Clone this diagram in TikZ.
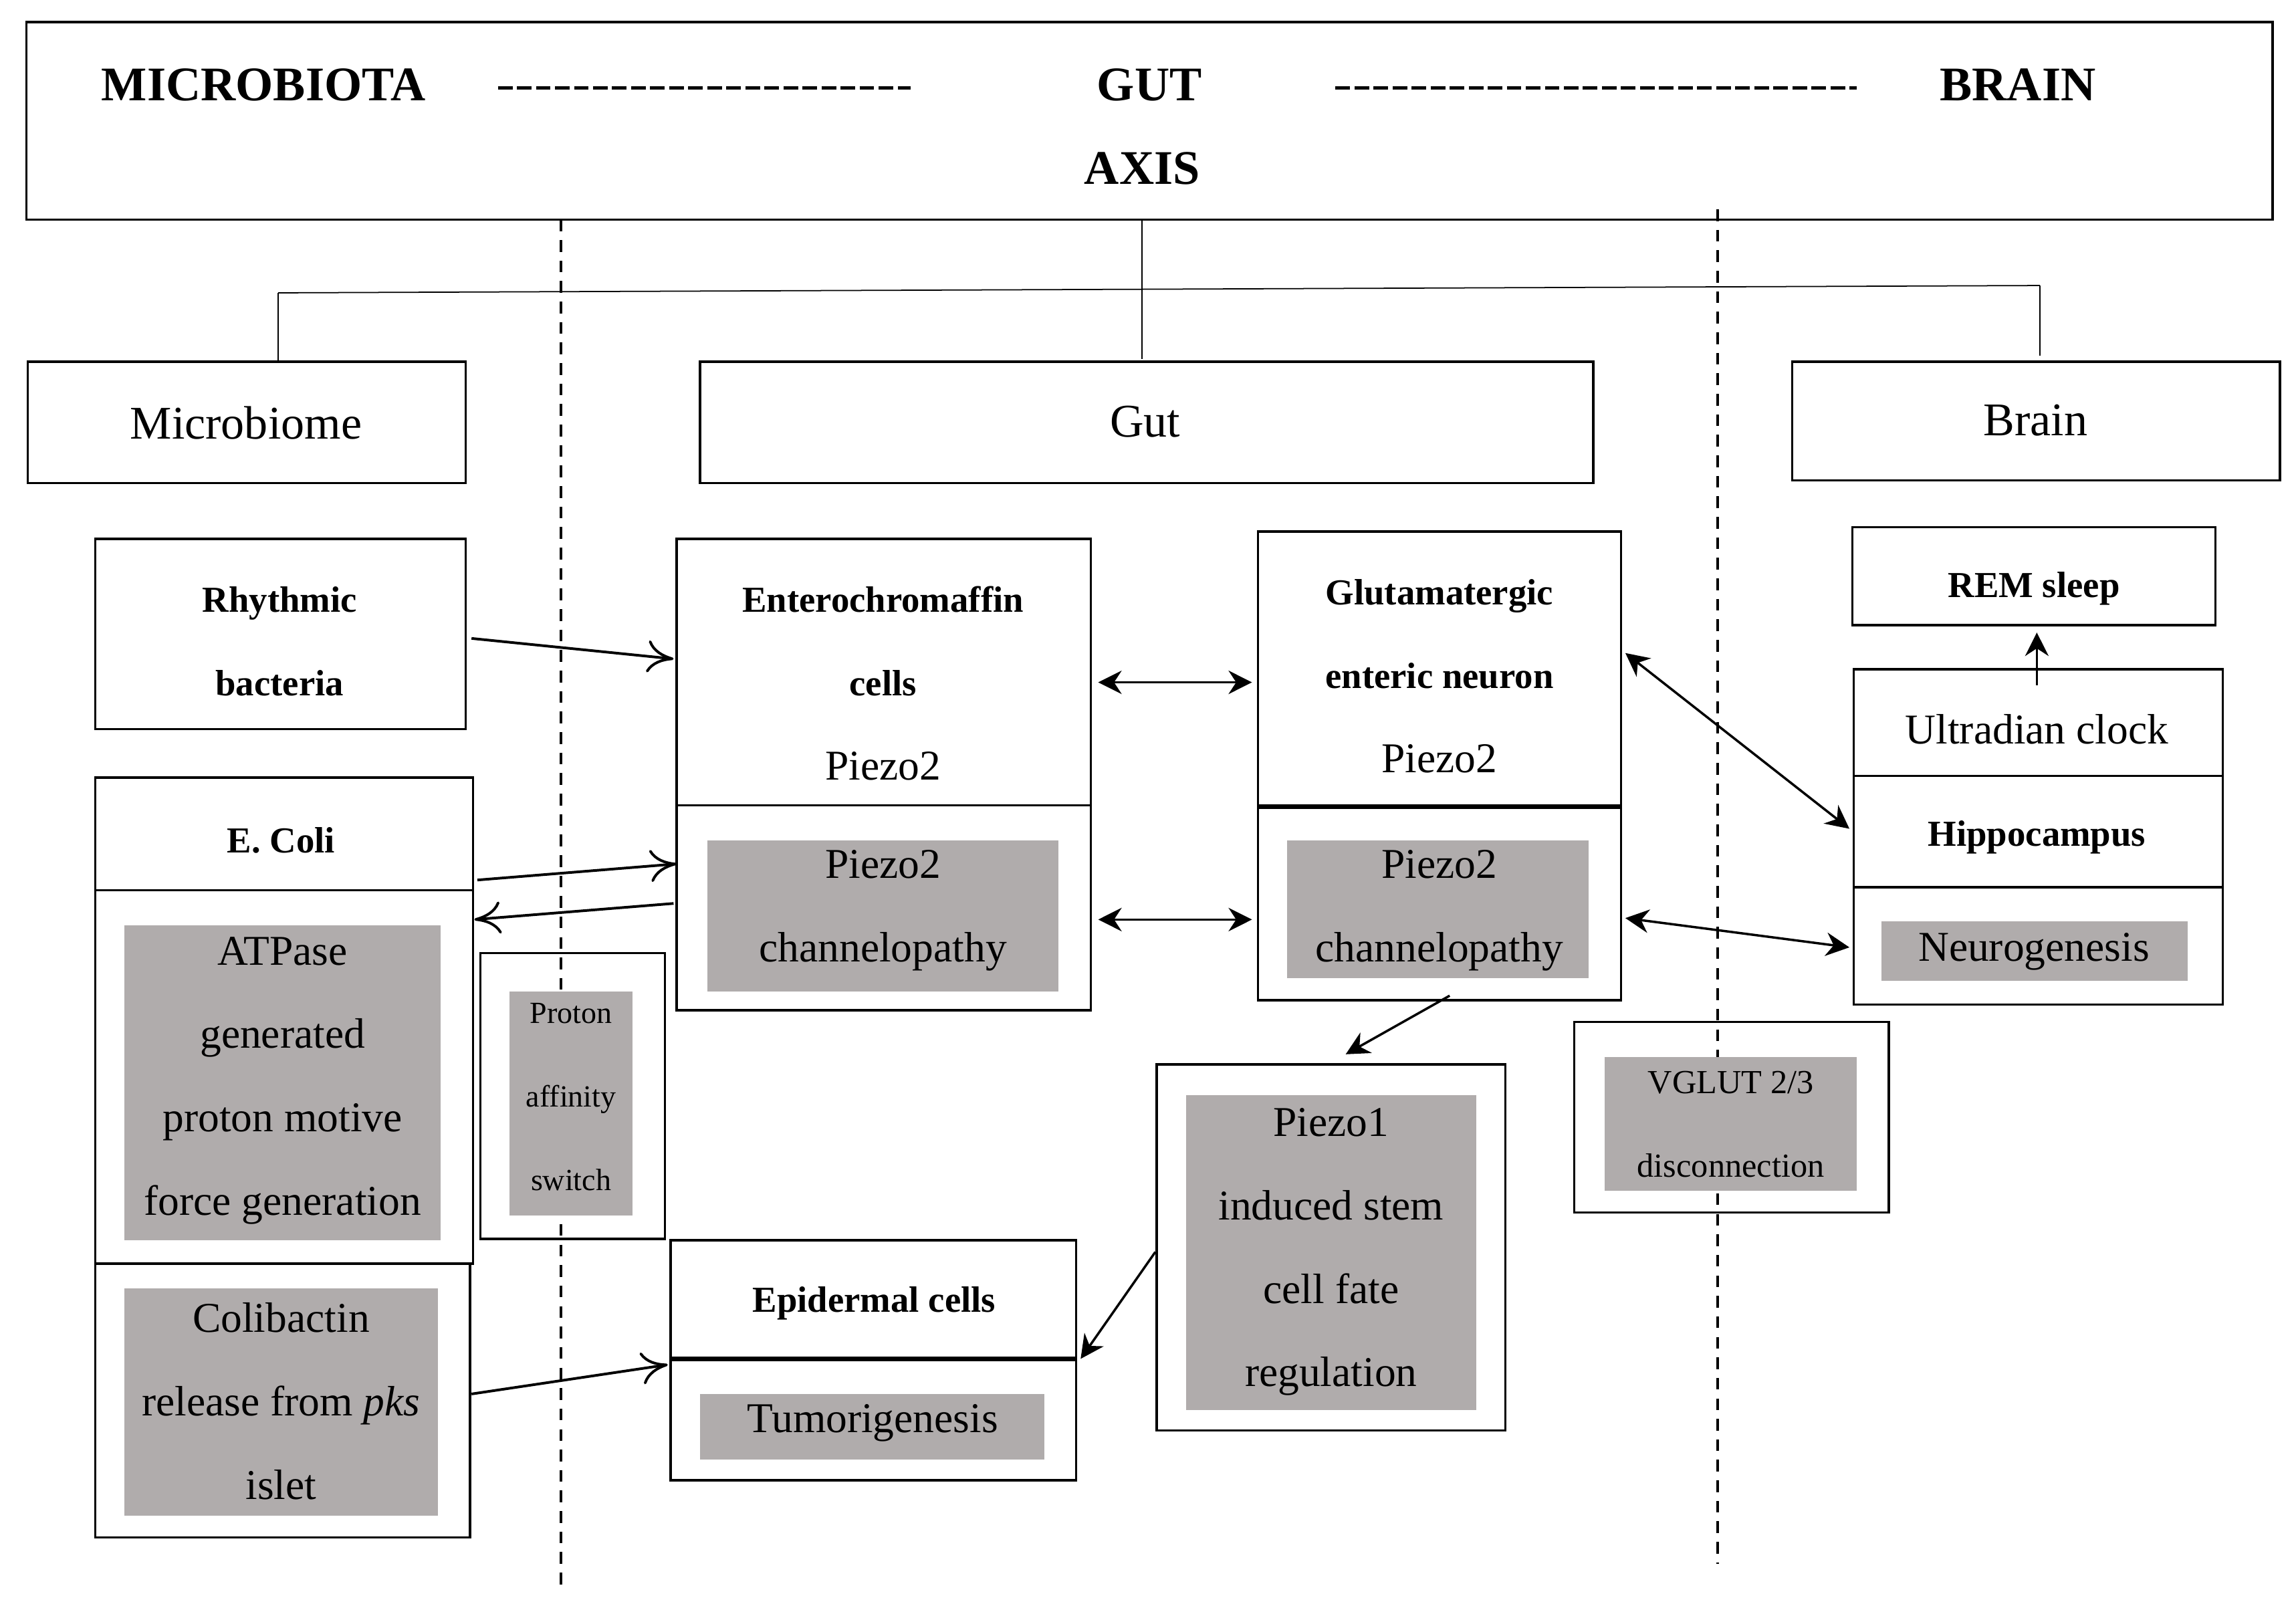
\documentclass[tikz,border=0pt]{standalone}
\usepackage{fontspec}
\setmainfont{Liberation Serif}
\usetikzlibrary{arrows.meta}
\definecolor{boxgray}{RGB}{176,172,172}
\tikzset{
  box/.style={draw, line width=0.8pt},
  shade/.style={fill=boxgray},
  lbl/.style={align=center, font=\fontsize{14.5}{28.5}\selectfont},
  blbl/.style={align=center, font=\bfseries\fontsize{12.5}{28.5}\selectfont},
  slbl/.style={align=center, font=\fontsize{10.5}{28.5}\selectfont},
  title/.style={font=\bfseries\fontsize{16.5}{20}\selectfont},
  open/.style={-{To[length=9pt,width=11pt]}, line width=0.9pt},
  solid/.style={-{Stealth[length=8pt,width=8pt]}, line width=0.8pt},
  both/.style={{Stealth[length=8pt,width=8pt]}-{Stealth[length=8pt,width=8pt]}, line width=0.8pt},
}
\begin{document}
\begin{tikzpicture}[x=0.5pt,y=-0.5pt]
\useasboundingbox (0,0) rectangle (1568,1106);

% header
\draw[box] (18,15) rectangle (1552,150);
\node[title] (micro) at (180,58) {MICROBIOTA};
\node[title] (gutt) at (785,58) {GUT};
\node[title] (axis) at (780,115) {AXIS};
\node[title] (brainn) at (1378,58) {BRAIN};
\draw[line width=1pt, dash pattern=on 5pt off 1.5pt] (340,60) -- (622,60);
\draw[line width=1pt, dash pattern=on 5pt off 1.5pt] (912,60) -- (1268,60);

% dashed borders
\draw[line width=1pt, dash pattern=on 4pt off 3pt] (383,150) -- (383,1085);
\draw[line width=1pt, dash pattern=on 4pt off 3pt] (1173,143) -- (1173,1068);

% tree
\coordinate (top) at (780,150);
\coordinate (tgut) at (780,245);
\coordinate (tl) at (190,200);
\coordinate (tr) at (1393,195);
\draw (top) -- (tgut);
\draw (tl) -- (tr);
\draw (tl) -- (190,247);
\draw (tr) -- (1393,243);

% level boxes
\draw[box] (19,247) rectangle (318,330);
\node[lbl, font=\fontsize{16}{20}\selectfont] (microbiome) at (168,289) {Microbiome};
\draw[box] (478,247) rectangle (1088,330);
\node[lbl, font=\fontsize{16}{20}\selectfont] (gut) at (782,288) {Gut};
\draw[box] (1224,247) rectangle (1557,328);
\node[lbl, font=\fontsize{16}{20}\selectfont] (brain) at (1390,287) {Brain};

% microbiome column
\draw[box] (65,368) rectangle (318,498);
\node[blbl] (rhythmic) at (191,438) {Rhythmic\\bacteria};
\draw[box] (65,531) rectangle (323,863);
\draw[box] (65,608) -- (323,608);
\node[blbl] (ecoli) at (192,574) {E. Coli};
\fill[shade] (85,632) rectangle (301,847);
\node[lbl] (atpase) at (193,738) {ATPase\\generated\\proton motive\\force generation};
\draw[box] (65,863) rectangle (321,1050);
\fill[shade] (85,880) rectangle (299,1035);
\node[lbl] (colib) at (192,957) {Colibactin\\release from \textit{pks}\\islet};
\draw[box] (328,651) rectangle (454,846);
\fill[shade] (348,677) rectangle (432,830);
\node[slbl] (proton) at (390,749) {Proton\\affinity\\switch};

% gut column
\draw[box] (462,368) rectangle (745,690);
\draw[box] (462,550) -- (745,550);
\node[blbl] (entero) at (603,438) {Enterochromaffin\\cells};
\node[lbl] (ep2) at (603,523) {Piezo2};
\fill[shade] (483,574) rectangle (723,677);
\node[lbl] (echan) at (603,622) {Piezo2\\channelopathy};

\draw[box] (859,363) rectangle (1107,683);
\draw[line width=1.6pt] (859,551) -- (1107,551);
\node[blbl] (gluta) at (983,433) {Glutamatergic\\enteric neuron};
\node[lbl] (gp2) at (983,518) {Piezo2};
\fill[shade] (879,574) rectangle (1085,668);
\node[lbl] (gchan) at (983,622) {Piezo2\\channelopathy};

\draw[box] (458,847) rectangle (735,1011);
\draw[line width=1.6pt] (458,928) -- (735,928);
\node[blbl] (epid) at (597,890) {Epidermal cells};
\fill[shade] (478,952) rectangle (713,997);
\node[lbl] (tumor) at (596,972) {Tumorigenesis};

\draw[box] (790,727) rectangle (1028,977);
\fill[shade] (810,748) rectangle (1008,963);
\node[lbl] (piezo1) at (909,855) {Piezo1\\induced stem\\cell fate\\regulation};

% brain column
\draw[box] (1265,360) rectangle (1513,427);
\node[blbl] (rem) at (1389,402) {REM sleep};
\draw[box] (1266,457) rectangle (1518,686);
\draw[box] (1266,530) -- (1518,530);
\draw[box] (1266,606) -- (1518,606);
\node[lbl] (ultra) at (1391,498) {Ultradian clock};
\node[blbl] (hippo) at (1391,572) {Hippocampus};
\fill[shade] (1285,629) rectangle (1494,670);
\node[lbl] (neuro) at (1389,650) {Neurogenesis};

\draw[box] (1075,698) rectangle (1290,828);
\fill[shade] (1096,722) rectangle (1268,813);
\node[slbl, font=\fontsize{11.5}{28.5}\selectfont] (vglut) at (1182,768) {VGLUT 2/3\\disconnection};

% connectors
\coordinate (rb) at (322,436); \coordinate (ecin) at (460,450);
\draw[open] (rb) -- (ecin);
\coordinate (ec1) at (326,601); \coordinate (ec2) at (462,590);
\draw[open] (ec1) -- (ec2);
\coordinate (ec3) at (460,617); \coordinate (ec4) at (324,628);
\draw[open] (ec3) -- (ec4);
\coordinate (e1) at (750,466); \coordinate (g1) at (855,466);
\draw[both] (e1) -- (g1);
\coordinate (e2) at (750,628); \coordinate (g2) at (855,628);
\draw[both] (e2) -- (g2);
\coordinate (g3) at (1110,446); \coordinate (h1) at (1263,566);
\draw[both] (g3) -- (h1);
\coordinate (g4) at (1110,627); \coordinate (h2) at (1263,647);
\draw[both] (g4) -- (h2);
\coordinate (g5) at (990,680); \coordinate (p1) at (919,720);
\draw[solid] (g5) -- (p1);
\coordinate (p2) at (789,855); \coordinate (ep1) at (738,928);
\draw[solid] (p2) -- (ep1);
\coordinate (cb) at (322,952); \coordinate (ep2in) at (456,932);
\draw[open] (cb) -- (ep2in);
\coordinate (u1) at (1391,468); \coordinate (r1) at (1391,432);
\draw[solid] (u1) -- (r1);
\end{tikzpicture}
\end{document}
